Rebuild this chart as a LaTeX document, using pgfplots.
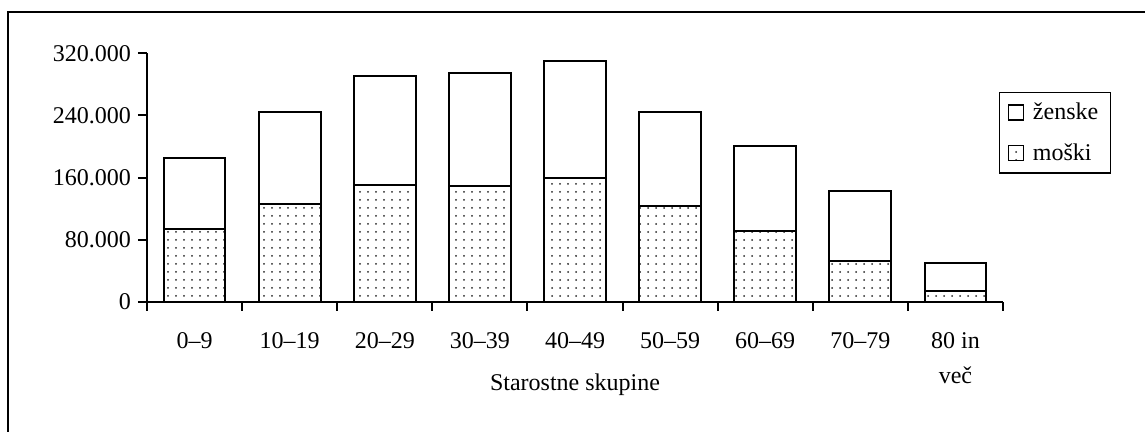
\documentclass[border=0pt]{standalone}
\usepackage{pgfplots}
\pgfplotsset{compat=1.18}
\usepackage{fontspec}
\setmainfont{Liberation Serif}
\usetikzlibrary{patterns.meta}
\tikzdeclarepattern{
  name=sdots,
  type=uncolored,
  bottom left={(-.7pt,-.7pt)},
  top right={(.7pt,.7pt)},
  tile size={(4pt,4pt)},
  code={\fill (0,0) circle (0.5pt);}
}
\begin{document}
\begin{tikzpicture}[x=1pt,y=1pt]
\useasboundingbox (-73.5,-65.15) rectangle (499,150.85);
\draw[line width=1pt] (-69.25,-80) -- (-69.25,144.6) -- (520,144.6);
\begin{axis}[
  at={(0,0)}, anchor=south west,
  scale only axis, width=428pt, height=124.15pt,
  font=\fontsize{12}{14.4}\selectfont,
  ybar stacked, bar width=0.65,
  xmin=-0.5, xmax=8.5, ymin=0, ymax=320000,
  enlargelimits=false,
  axis lines=left,
  axis line style={-, line width=1pt},
  tick align=outside,
  major tick length=4.5pt,
  tick style={line width=1pt, black},
  ytick={0,80000,160000,240000,320000},
  scaled y ticks=false,
  yticklabel style={/pgf/number format/.cd, fixed, 1000 sep={.}, assume math mode=true},
  xtick={-0.5,0.5,1.5,2.5,3.5,4.5,5.5,6.5,7.5,8.5},
  xticklabels={0–9,10–19,20–29,30–39,40–49,50–59,60–69,70–79,{80 in\\več},{}},
  xticklabel style={xshift=23.78pt, yshift=-7.6pt, align=center, font=\fontsize{12}{17.5}\selectfont},
  xlabel={Starostne skupine},
  xlabel style={at={(axis description cs:0.5,0)}, anchor=base, yshift=-44.65pt},
  reverse legend,
  legend style={at={(axis description cs:0.9953,0.8445)}, anchor=north west,
    draw=black, line width=0.6pt, font=\fontsize{12}{14.4}\selectfont,
    inner xsep=4pt, inner ysep=3pt, row sep=6.5pt,
    /tikz/every odd column/.append style={column sep=2.5pt}},
  legend cell align=left,
  legend image code/.code={\draw[#1, line width=0.7pt] (0pt,-3.75pt) rectangle (7.5pt,3.75pt);},
]
\addplot[draw=black, line width=1pt, fill=white, pattern={sdots}, pattern color=black!85] coordinates {
  (0,93700) (1,125500) (2,150800) (3,149100) (4,159000) (5,122900) (6,91100) (7,52400) (8,13400)
};
\addplot[draw=black, line width=1pt, fill=white] coordinates {
  (0,91500) (1,119400) (2,140500) (3,145200) (4,150800) (5,122000) (6,109200) (7,90300) (8,36500)
};
\legend{moški,ženske}
\end{axis}
\end{tikzpicture}
\end{document}
